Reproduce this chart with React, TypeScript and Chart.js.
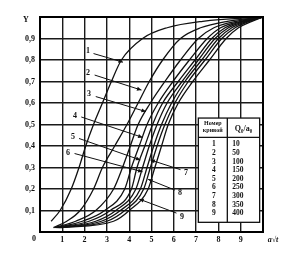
import React, { useEffect, useRef } from "react";
import { Chart, registerables } from "chart.js";
Chart.register(...registerables);

// Y levels at which the x (a√t) positions of each curve were read
const yLevels = [0.02, 0.05, 0.1, 0.2, 0.3, 0.4, 0.5, 0.6, 0.7, 0.8, 0.9, 0.95, 0.98, 1.0];
const curve1 = [null, 0.5, 0.9, 1.4, 1.75, 2.05, 2.4, 2.8, 3.2, 3.65, 4.6, 5.7, 7.3, 10];
const curve2 = [0.6, 1.2, 1.8, 2.4, 2.8, 3.35, 3.9, 4.4, 4.9, 5.5, 6.3, 7.2, 8.4, 10];
const curve3 = [0.65, 1.6, 2.5, 3.3, 3.7, 4.05, 4.4, 4.95, 5.6, 6.3, 7.1, 7.8, 8.8, 10];
const curve4 = [0.7, 1.9, 2.9, 3.8, 4.1, 4.45, 4.8, 5.3, 5.96, 6.7, 7.5, 8.1, 9.0, 10];
const curve5 = [0.75, 2.2, 3.15, 4.1, 4.35, 4.7, 5.05, 5.5, 6.2, 6.95, 7.7, 8.3, 9.1, 10];
const curve6 = [0.8, 2.5, 3.4, 4.3, 4.6, 4.9, 5.25, 5.7, 6.37, 7.1, 7.85, 8.45, 9.2, 10];
const curve7 = [0.85, 2.75, 3.6, 4.5, 4.8, 5.1, 5.45, 5.9, 6.5, 7.25, 8.0, 8.6, 9.3, 10];
const curve8 = [0.9, 3.0, 3.8, 4.65, 4.95, 5.25, 5.6, 6.05, 6.65, 7.4, 8.15, 8.75, 9.4, 10];
const curve9 = [0.95, 3.3, 4.0, 4.85, 5.15, 5.45, 5.75, 6.2, 6.85, 7.6, 8.35, 8.9, 9.5, 10];
const curves = [curve1, curve2, curve3, curve4, curve5, curve6, curve7, curve8, curve9];

const curveNumbers = ["1", "2", "3", "4", "5", "6", "7", "8", "9"];
const qValues = ["10", "50", "100", "150", "200", "250", "300", "350", "400"];
const xTickLabels = ["0", "1", "2", "3", "4", "5", "6", "7", "8", "9"];
const yTickLabels = ["0,1", "0,2", "0,3", "0,4", "0,5", "0,6", "0,7", "0,8", "0,9"];

// curve label positions and arrow tips, in data units [labelX, labelY, tailX, tailY, tipX, tipY]
const labelArrows = [
  [2.15, 0.84, 2.4, 0.83, 3.72, 0.79],
  [2.15, 0.74, 2.45, 0.73, 4.55, 0.66],
  [2.2, 0.64, 2.5, 0.63, 4.75, 0.56],
  [1.57, 0.54, 1.85, 0.535, 4.6, 0.44],
  [1.48, 0.44, 1.75, 0.435, 4.5, 0.335],
  [1.26, 0.37, 1.55, 0.365, 4.6, 0.28],
  [6.55, 0.275, 6.3, 0.29, 4.95, 0.335],
  [6.28, 0.18, 6.05, 0.195, 4.85, 0.245],
  [6.37, 0.07, 6.12, 0.088, 4.45, 0.153],
];

const FONT = "'Liberation Serif', 'DejaVu Serif', serif";

const overlay = {
  id: "overlay",
  afterDraw(chart: any) {
    const ctx = chart.ctx as CanvasRenderingContext2D;
    const xs = chart.scales.x;
    const ys = chart.scales.y;
    const area = chart.chartArea;
    ctx.save();
    ctx.fillStyle = "#111";
    ctx.strokeStyle = "#111";

    // arrows and curve numbers
    labelArrows.forEach((a, i) => {
      const lx = xs.getPixelForValue(a[0]);
      const ly = ys.getPixelForValue(a[1]);
      const tx = xs.getPixelForValue(a[2]);
      const ty = ys.getPixelForValue(a[3]);
      const px = xs.getPixelForValue(a[4]);
      const py = ys.getPixelForValue(a[5]);
      ctx.font = `bold 8px ${FONT}`;
      ctx.textAlign = "center";
      ctx.textBaseline = "middle";
      ctx.fillText(curveNumbers[i], lx, ly);
      ctx.lineWidth = 1;
      ctx.beginPath();
      ctx.moveTo(tx, ty);
      ctx.lineTo(px, py);
      ctx.stroke();
      const ang = Math.atan2(py - ty, px - tx);
      const L = 4.5, W = 2;
      ctx.beginPath();
      ctx.moveTo(px, py);
      ctx.lineTo(px - L * Math.cos(ang) + W * Math.sin(ang), py - L * Math.sin(ang) - W * Math.cos(ang));
      ctx.lineTo(px - L * Math.cos(ang) - W * Math.sin(ang), py - L * Math.sin(ang) + W * Math.cos(ang));
      ctx.closePath();
      ctx.fill();
    });

    // table
    const tL = xs.getPixelForValue(7.1);
    const tR = xs.getPixelForValue(9.85);
    const tT = ys.getPixelForValue(0.53);
    const tB = ys.getPixelForValue(0.045);
    const tM = xs.getPixelForValue(8.4);
    const tH = ys.getPixelForValue(0.44);
    ctx.fillStyle = "#fff";
    ctx.fillRect(tL, tT, tR - tL, tB - tT);
    ctx.lineWidth = 1.3;
    ctx.strokeStyle = "#111";
    ctx.strokeRect(tL, tT, tR - tL, tB - tT);
    ctx.beginPath();
    ctx.moveTo(tM, tT);
    ctx.lineTo(tM, tB);
    ctx.moveTo(tL, tH);
    ctx.lineTo(tR, tH);
    ctx.stroke();
    ctx.fillStyle = "#111";
    ctx.textAlign = "center";
    ctx.textBaseline = "middle";
    ctx.font = `bold 6px ${FONT}`;
    ctx.fillText("Номер", (tL + tM) / 2, tT + 5.5);
    ctx.fillText("кривой", (tL + tM) / 2, tT + 12.5);
    ctx.font = `bold 8px ${FONT}`;
    ctx.fillText("Q₀/a₀", (tM + tR) / 2, (tT + tH) / 2 + 1);
    const r0 = tH + 7;
    const step = 8.6;
    ctx.font = `bold 7.5px ${FONT}`;
    curveNumbers.forEach((n, i) => {
      ctx.textAlign = "center";
      ctx.fillText(n, (tL + tM) / 2 + 1, r0 + i * step);
      ctx.textAlign = "left";
      ctx.fillText(qValues[i], tM + 5, r0 + i * step);
    });

    // corner texts
    ctx.font = `bold 8px ${FONT}`;
    ctx.textAlign = "center";
    ctx.fillText(xTickLabels[0], area.left - 6, area.bottom + 7);
    ctx.fillText("Y", area.left - 14, area.top + 3);
    ctx.font = `italic bold 8px ${FONT}`;
    ctx.fillText("a√t", area.right + 10, area.bottom + 8);
    ctx.restore();
  },
};

export default function App() {
  const ref = useRef<HTMLCanvasElement | null>(null);
  useEffect(() => {
    if (!ref.current) return;
    const datasets = curves.map((c, i) => ({
      label: curveNumbers[i],
      data: yLevels
        .map((y, j) => (c[j] === null ? null : { x: c[j] as number, y }))
        .filter((p) => p !== null),
      borderColor: "#111",
      borderWidth: 1.3,
      pointRadius: 0,
      fill: false,
      cubicInterpolationMode: "monotone" as const,
    }));
    const chart = new Chart(ref.current, {
      type: "line",
      data: { datasets: datasets as any },
      options: {
        animation: false,
        responsive: false,
        layout: { padding: { top: 17, right: 28, left: 0, bottom: 0 } },
        plugins: { legend: { display: false }, tooltip: { enabled: false } },
        scales: {
          x: {
            type: "linear",
            min: 0,
            max: 10,
            afterFit: (s: any) => {
              s.height = 21;
            },
            ticks: {
              stepSize: 1,
              padding: 3,
              color: "#111",
              font: { family: FONT, size: 8, weight: "bold" },
              maxRotation: 0,
              callback: (v: any) => {
                const n = Math.round(Number(v));
                return n >= 1 && n <= 9 ? xTickLabels[n] : "";
              },
            },
            grid: { color: "#1a1a1a", lineWidth: 1.4, drawTicks: false },
            border: { display: true, color: "#000", width: 2 },
          },
          y: {
            type: "linear",
            min: 0,
            max: 1,
            afterFit: (s: any) => {
              s.width = 40;
            },
            ticks: {
              stepSize: 0.1,
              padding: 5,
              color: "#111",
              font: { family: FONT, size: 8, weight: "bold" },
              callback: (v: any) => {
                const n = Math.round(Number(v) * 10);
                return n >= 1 && n <= 9 ? yTickLabels[n - 1] : "";
              },
            },
            grid: { color: "#1a1a1a", lineWidth: 1.4, drawTicks: false },
            border: { display: true, color: "#000", width: 2 },
          },
        },
      },
      plugins: [
        overlay,
        {
          id: "frame",
          afterDatasetsDraw(chart: any) {
            const { ctx, chartArea: a } = chart;
            ctx.save();
            ctx.strokeStyle = "#000";
            ctx.lineWidth = 2;
            ctx.strokeRect(a.left, a.top, a.right - a.left, a.bottom - a.top);
            ctx.restore();
          },
        },
      ],
    });
    return () => chart.destroy();
  }, []);
  return (
    <div style={{ position: "fixed", left: 0, top: 0, width: 291, height: 253, background: "#fff" }}>
      <canvas ref={ref} width={291} height={253} style={{ display: "block" }} />
    </div>
  );
}
